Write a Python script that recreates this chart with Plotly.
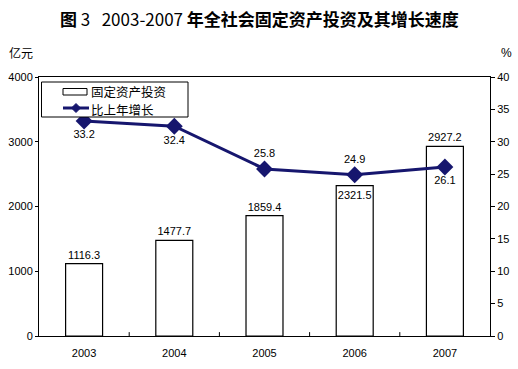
import plotly.graph_objects as go

years = ["2003", "2004", "2005", "2006", "2007"]
investment = [1116.3, 1477.7, 1859.4, 2321.5, 2927.2]
investment_label_pos = ["outside", "outside", "outside", "inside", "outside"]
growth = [33.2, 32.4, 25.8, 24.9, 26.1]
growth_label_pos = ["bottom center", "bottom center", "top center", "top center", "bottom center"]
bar_name = "固定资产投资"
line_name = "比上年增长"

NAVY = "#16166e"
FONT = "Liberation Sans, Arial, sans-serif"
CJK = "Noto Sans CJK SC, sans-serif"

W, H = 518, 369
l, r, t, b = 39, 28, 77, 33
pw, ph = W - l - r, H - t - b


def px(xp):
    return (xp - l) / pw


def py(yp):
    return (H - b - yp) / ph


fig = go.Figure()
fig.add_trace(go.Bar(
    x=years, y=investment, name=bar_name,
    marker=dict(color="white", line=dict(color="black", width=1.2)),
    width=0.41,
    text=[f"{v:.1f}" for v in investment], textposition=investment_label_pos,
    insidetextanchor="end", constraintext="none", textangle=0,
    textfont=dict(size=11, color="black", family=FONT),
    insidetextfont=dict(size=11, color="black", family=FONT),
    outsidetextfont=dict(size=11, color="black", family=FONT),
    cliponaxis=False,
))
fig.add_trace(go.Scatter(
    x=years, y=growth, name=line_name, yaxis="y2",
    mode="lines+markers+text",
    line=dict(color=NAVY, width=3),
    marker=dict(symbol="diamond", size=13, color=NAVY),
    text=[f"{v:.1f}" for v in growth], textposition=growth_label_pos,
    textfont=dict(size=11, color="black", family=FONT),
    cliponaxis=False,
))

annotations = [
    dict(text="<b>图</b> 3   2003-2007 <b>年全社会固定资产投资及其增长速度</b>",
         x=px(259), y=py(18), xanchor="center", yanchor="middle",
         font=dict(size=17, family=CJK, color="black")),
    dict(text="亿元", x=px(21), y=py(53), xanchor="center", yanchor="middle",
         font=dict(size=12, family=CJK, color="black")),
    dict(text="%", x=px(507), y=py(53), xanchor="center", yanchor="middle",
         font=dict(size=12, family=FONT, color="black")),
    dict(text=bar_name, x=px(89), y=py(91), xanchor="left", yanchor="middle",
         font=dict(size=12.5, family=CJK, color="black")),
    dict(text=line_name, x=px(89), y=py(109), xanchor="left", yanchor="middle",
         font=dict(size=12.5, family=CJK, color="black")),
]
for a in annotations:
    a.update(xref="paper", yref="paper", showarrow=False)

shapes = []
# category separators on x axis (ticks between categories, pointing inward)
for i in range(1, len(years)):
    shapes.append(dict(type="line", xref="x", yref="paper", x0=i - 0.5, x1=i - 0.5,
                       y0=0, y1=0.015, line=dict(color="black", width=1)))
# custom legend
shapes.append(dict(type="rect", xref="paper", yref="paper",
                   x0=px(41.5), x1=px(188), y0=py(82), y1=py(117),
                   line=dict(color="black", width=1), fillcolor="white", layer="above"))
shapes.append(dict(type="rect", xref="paper", yref="paper",
                   x0=px(63), x1=px(87), y0=py(88.5), y1=py(95),
                   line=dict(color="black", width=1), fillcolor="white", layer="above"))
shapes.append(dict(type="line", xref="paper", yref="paper",
                   x0=px(63), x1=px(89), y0=py(108), y1=py(108),
                   line=dict(color=NAVY, width=3), layer="above"))
cx, cy, d = 76, 108, 4.5
shapes.append(dict(type="path", xref="paper", yref="paper",
                   path=f"M {px(cx - d)} {py(cy)} L {px(cx)} {py(cy - d)} L {px(cx + d)} {py(cy)} L {px(cx)} {py(cy + d)} Z",
                   line=dict(color=NAVY, width=1), fillcolor=NAVY, layer="above"))

fig.update_layout(
    width=W, height=H,
    margin=dict(l=l, r=r, t=t, b=b, autoexpand=False),
    paper_bgcolor="white", plot_bgcolor="white",
    showlegend=False,
    xaxis=dict(showline=True, linecolor="black", linewidth=1, mirror=True,
               ticks="outside", ticklen=7, tickcolor="rgba(0,0,0,0)",
               tickfont=dict(size=11, family=FONT, color="black"),
               showgrid=False),
    yaxis=dict(range=[0, 4000], dtick=1000, showline=True, linecolor="black",
               linewidth=1, ticks="outside", ticklen=3, tickcolor="black",
               tickfont=dict(size=11, family=FONT, color="black"), showgrid=False,
               zeroline=False),
    yaxis2=dict(range=[0, 40], dtick=5, overlaying="y", side="right",
                showline=True, linecolor="black", linewidth=1, ticks="outside",
                ticklen=4, tickcolor="black",
                tickfont=dict(size=11, family=FONT, color="black"),
                showgrid=False, zeroline=False),
    annotations=annotations,
    shapes=shapes,
)

fig.write_html("out.html", config={"displayModeBar": False},
               post_script="document.body.style.margin='0';document.body.style.overflow='hidden';")
